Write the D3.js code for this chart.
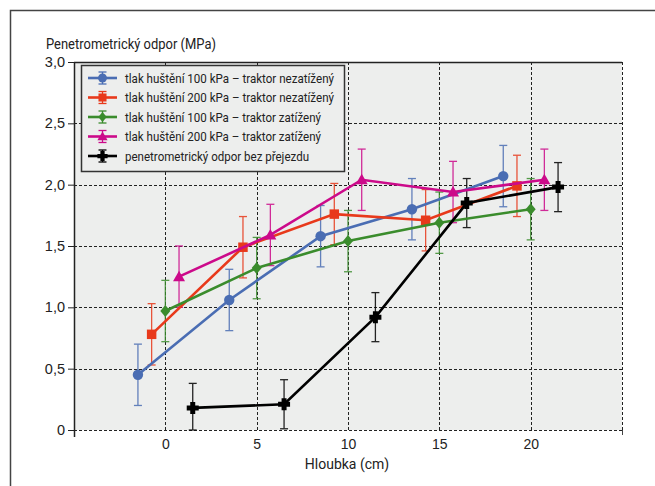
<!DOCTYPE html>
<html lang="cs">
<head>
  <meta charset="utf-8">
  <title>Penetrometrický odpor</title>
  <style>
    body { margin: 0; background: #fff; }
    svg { display: block; font-family: Roboto, 'Liberation Sans', sans-serif; }
  </style>
</head>
<body>
<div id="chart"></div>
<script src="https://cdn.jsdelivr.net/npm/d3@7"></script>
<script>

  ////////////////////////////////////////////////// DATA

  var seriesNames = [
    "tlak huštění 100 kPa – traktor nezatížený",
    "tlak huštění 200 kPa – traktor nezatížený",
    "tlak huštění 100 kPa – traktor zatížený",
    "tlak huštění 200 kPa – traktor zatížený",
    "penetrometrický odpor bez přejezdu"
  ];

  // hloubka (cm) for each series (points are shifted sideways in the original)
  var depth100n = [-1.5, 3.5, 8.5, 13.5, 18.5];
  var depth200n = [-0.75, 4.25, 9.25, 14.25, 19.25];
  var depth100z = [0, 5, 10, 15, 20];
  var depth200z = [0.75, 5.75, 10.75, 15.75, 20.75];
  var depthBez  = [1.5, 6.5, 11.5, 16.5, 21.5];

  // penetrometrický odpor (MPa)
  var odpor100n = [0.45, 1.06, 1.58, 1.80, 2.07];
  var odpor200n = [0.78, 1.49, 1.76, 1.71, 1.99];
  var odpor100z = [0.97, 1.32, 1.54, 1.69, 1.80];
  var odpor200z = [1.25, 1.59, 2.04, 1.94, 2.04];
  var odporBez  = [0.18, 0.21, 0.92, 1.85, 1.98];

  // error (± MPa)
  var err100n = [0.25, 0.25, 0.25, 0.25, 0.25];
  var err200n = [0.25, 0.25, 0.25, 0.25, 0.25];
  var err100z = [0.25, 0.25, 0.25, 0.25, 0.25];
  var err200z = [0.25, 0.25, 0.25, 0.25, 0.25];
  var errBez  = [0.20, 0.20, 0.20, 0.20, 0.20];

  var xTicks = [0, 5, 10, 15, 20];
  var yTicks = [0, 0.5, 1.0, 1.5, 2.0, 2.5, 3.0];

  var colors  = ["#4a6db3", "#e8391b", "#3a8c2c", "#cc0a8a", "#000000"];
  var symbols = ["circle", "square", "diamond", "triangle", "plus"];

  ////////////////////////////////////////////////// SETUP

  var width = 655, height = 486;
  var plot = {left: 74, top: 62, right: 622, bottom: 430};

  var svg = d3.select("#chart").append("svg")
              .attr("width", width)
              .attr("height", height);

  // outer frame
  svg.append("rect")
     .attr("x", 10.5).attr("y", 10.5)
     .attr("width", 700).attr("height", 600)
     .attr("fill", "none")
     .attr("stroke", "#444")
     .attr("stroke-width", 1.5);

  var x = d3.scaleLinear().domain([-5, 25]).range([plot.left, plot.right]);
  var y = d3.scaleLinear().domain([0, 3]).range([plot.bottom, plot.top]);

  // plot background
  svg.append("rect")
     .attr("x", plot.left).attr("y", plot.top)
     .attr("width", plot.right - plot.left)
     .attr("height", plot.bottom - plot.top)
     .attr("fill", "#edeeed");

  // grid
  var grid = svg.append("g").attr("stroke", "#222").attr("stroke-width", 1).attr("stroke-dasharray", "3,2");
  grid.selectAll(".gy").data(yTicks).enter().append("line")
      .attr("x1", plot.left).attr("x2", plot.right)
      .attr("y1", function(d){ return Math.round(y(d)) + 0.5; })
      .attr("y2", function(d){ return Math.round(y(d)) + 0.5; });
  grid.selectAll(".gx").data(xTicks.concat([25])).enter().append("line")
      .attr("y1", plot.top).attr("y2", plot.bottom)
      .attr("x1", function(d){ return Math.round(x(d)) + 0.5; })
      .attr("x2", function(d){ return Math.round(x(d)) + 0.5; });

  // top border
  svg.append("line")
     .attr("x1", plot.left).attr("x2", plot.right)
     .attr("y1", plot.top + 0.5).attr("y2", plot.top + 0.5)
     .attr("stroke", "#222").attr("stroke-width", 1.5);

  // axes
  var yAxis = d3.axisLeft(y).tickValues(yTicks).tickSize(6).tickPadding(3)
                .tickFormat(function(d){ return d === 0 ? "0" : d3.format(".1f")(d).replace(".", ","); });
  var gy = svg.append("g").attr("transform", "translate(" + plot.left + ",0)").call(yAxis);
  gy.select(".domain").remove();
  gy.selectAll(".tick line").attr("stroke", "#222");
  gy.selectAll(".tick text").attr("font-size", 14.5).attr("fill", "#222").attr("font-family", null);

  svg.append("line")
     .attr("x1", plot.left + 0.5).attr("x2", plot.left + 0.5)
     .attr("y1", plot.top).attr("y2", plot.bottom + 7)
     .attr("stroke", "#222").attr("stroke-width", 1.5);
  svg.append("line")
     .attr("x1", plot.right + 0.5).attr("x2", plot.right + 0.5)
     .attr("y1", plot.bottom).attr("y2", plot.bottom + 5)
     .attr("stroke", "#444").attr("stroke-width", 1);

  var xAxis = d3.axisBottom(x).tickValues(xTicks).tickSize(0).tickPadding(9);
  var gx = svg.append("g").attr("transform", "translate(0," + plot.bottom + ")").call(xAxis);
  gx.select(".domain").remove();
  gx.selectAll(".tick text").attr("font-size", 14).attr("fill", "#222").attr("font-family", null);

  // axis titles
  svg.append("text")
     .attr("x", 46).attr("y", 49)
     .attr("font-size", 14).attr("fill", "#222")
     .attr("textLength", 170).attr("lengthAdjust", "spacingAndGlyphs")
     .text("Penetrometrický odpor (MPa)");
  svg.append("text")
     .attr("x", 347).attr("y", 469)
     .attr("text-anchor", "middle")
     .attr("font-size", 14).attr("fill", "#222")
     .text("Hloubka (cm)");

  ////////////////////////////////////////////////// SERIES

  var series = [
    {depth: depth100n, odpor: odpor100n, err: err100n},
    {depth: depth200n, odpor: odpor200n, err: err200n},
    {depth: depth100z, odpor: odpor100z, err: err100z},
    {depth: depth200z, odpor: odpor200z, err: err200z},
    {depth: depthBez,  odpor: odporBez,  err: errBez}
  ].map(function(s, i){
    return {
      name: seriesNames[i], color: colors[i], symbol: symbols[i],
      points: s.depth.map(function(d, j){ return {x: d, y: s.odpor[j], e: s.err[j]}; })
    };
  });

  function markerPath(type) {
    if (type === "circle")   return d3.symbol(d3.symbolCircle, 85)();
    if (type === "square")   return d3.symbol(d3.symbolSquare, 90)();
    if (type === "diamond")  return "M0,-6L5,0L0,6L-5,0Z";
    if (type === "triangle") return "M0,-6L6,4.5L-6,4.5Z";
    // bold cross marker
    return "M-2.5,-6H2.5V-2.5H6V2.5H2.5V6H-2.5V2.5H-6V-2.5H-2.5Z";
  }

  var line = d3.line().x(function(d){ return x(d.x); }).y(function(d){ return y(d.y); });

  // error bars
  series.forEach(function(s){
    var g = svg.append("g").attr("stroke", s.color).attr("stroke-width", 1.3).attr("opacity", 0.85);
    s.points.forEach(function(p){
      var lo = Math.max(0, p.y - p.e), hi = p.y + p.e;
      g.append("line").attr("x1", x(p.x)).attr("x2", x(p.x)).attr("y1", y(lo)).attr("y2", y(hi));
      g.append("line").attr("x1", x(p.x) - 4).attr("x2", x(p.x) + 4).attr("y1", y(hi)).attr("y2", y(hi));
      g.append("line").attr("x1", x(p.x) - 4).attr("x2", x(p.x) + 4).attr("y1", y(lo)).attr("y2", y(lo));
    });
  });

  // lines and markers
  series.forEach(function(s){
    svg.append("path")
       .datum(s.points)
       .attr("d", line)
       .attr("fill", "none")
       .attr("stroke", s.color)
       .attr("stroke-width", 2.6);
    svg.append("g").selectAll("path").data(s.points).enter().append("path")
       .attr("transform", function(d){ return "translate(" + x(d.x) + "," + y(d.y) + ")"; })
       .attr("d", markerPath(s.symbol))
       .attr("fill", s.color);
  });

  ////////////////////////////////////////////////// LEGEND

  var legend = svg.append("g").attr("transform", "translate(81,65)");
  legend.append("rect")
        .attr("x", 0.5).attr("y", 0.5)
        .attr("width", 263).attr("height", 106)
        .attr("fill", "#edeeed")
        .attr("stroke", "#333").attr("stroke-width", 1.5);

  var textLengths = [209, 209, 196, 196, 184];

  var rows = legend.selectAll(".row").data(series).enter().append("g")
                   .attr("transform", function(d, i){ return "translate(0," + (13 + i * 19.5) + ")"; });
  rows.append("line").attr("x1", 7).attr("x2", 36).attr("y1", 0).attr("y2", 0)
      .attr("stroke", function(d){ return d.color; }).attr("stroke-width", 2.6);
  rows.append("line").attr("x1", 21.5).attr("x2", 21.5).attr("y1", -6).attr("y2", 6)
      .attr("stroke", function(d){ return d.color; }).attr("stroke-width", 1.3);
  rows.append("line").attr("x1", 17.5).attr("x2", 25.5).attr("y1", -6).attr("y2", -6)
      .attr("stroke", function(d){ return d.color; }).attr("stroke-width", 1.3);
  rows.append("line").attr("x1", 17.5).attr("x2", 25.5).attr("y1", 6).attr("y2", 6)
      .attr("stroke", function(d){ return d.color; }).attr("stroke-width", 1.3);
  rows.append("path")
      .attr("transform", "translate(21.5,0) scale(0.85)")
      .attr("d", function(d){ return markerPath(d.symbol); })
      .attr("fill", function(d){ return d.color; });
  rows.append("text")
      .attr("x", 44).attr("y", 0).attr("dy", "0.35em")
      .attr("font-size", 13.5).attr("fill", "#222")
      .attr("textLength", function(d, i){ return textLengths[i]; })
      .attr("lengthAdjust", "spacingAndGlyphs")
      .text(function(d){ return d.name; });

</script>
</body>
</html>
